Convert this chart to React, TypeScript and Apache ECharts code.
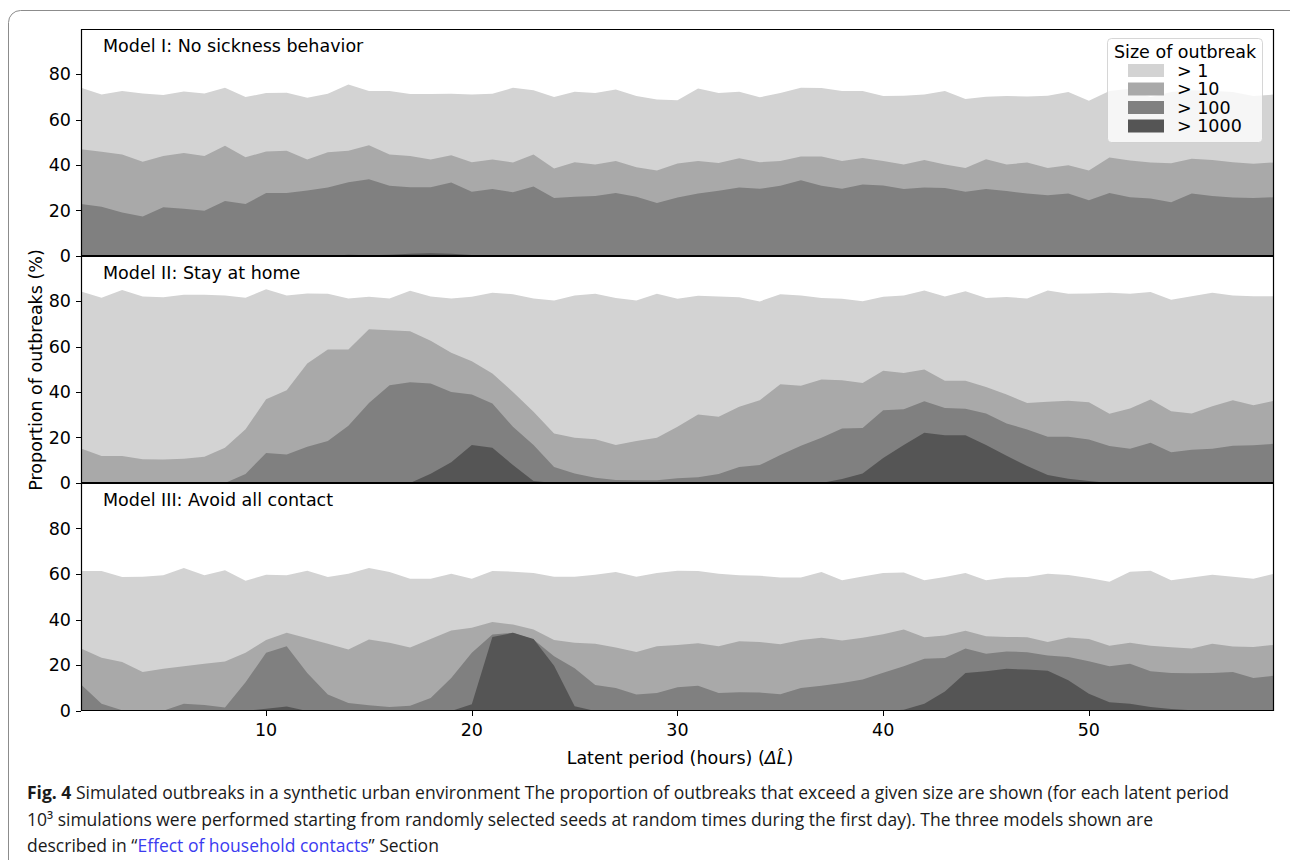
import React, { useEffect, useRef } from "react";
import * as echarts from "echarts";

// Latent period (hours)
const hours = [1, 2, 3, 4, 5, 6, 7, 8, 9, 10, 11, 12, 13, 14, 15, 16, 17, 18, 19, 20,
  21, 22, 23, 24, 25, 26, 27, 28, 29, 30, 31, 32, 33, 34, 35, 36, 37, 38, 39, 40,
  41, 42, 43, 44, 45, 46, 47, 48, 49, 50, 51, 52, 53, 54, 55, 56, 57, 58, 59];

// Model I: No sickness behavior
const m1Gt1 = [74.1, 71.1, 72.7, 71.6, 70.9, 72.5, 71.6, 74.1, 70.0, 71.8, 71.9, 69.7, 71.5, 75.6, 72.7, 72.7, 71.4, 71.4, 71.5, 71.2,
  71.5, 74.1, 73.0, 70.0, 72.4, 71.8, 73.4, 70.5, 68.9, 68.6, 73.8, 71.8, 72.4, 69.9, 71.8, 74.1, 74.0, 72.7, 72.7, 70.5,
  70.6, 71.1, 72.7, 69.2, 70.2, 70.5, 70.3, 70.6, 72.2, 68.4, 72.7, 73.7, 70.0, 72.2, 73.0, 72.8, 72.2, 70.5, 71.1];
const m1Gt10 = [47.0, 45.9, 44.7, 41.5, 44.1, 45.4, 44.1, 48.6, 43.5, 46.0, 46.4, 42.5, 45.7, 46.4, 48.8, 44.7, 44.0, 42.5, 44.4, 41.3,
  42.5, 41.2, 44.7, 38.5, 41.3, 40.3, 41.8, 39.1, 37.7, 40.7, 41.9, 41.0, 43.1, 41.3, 41.9, 43.8, 43.8, 41.9, 43.2, 41.8,
  40.3, 42.3, 40.3, 38.8, 42.6, 40.3, 41.2, 38.8, 40.0, 37.7, 43.4, 42.1, 41.2, 40.9, 42.8, 42.3, 41.3, 40.6, 41.2];
const m1Gt100 = [22.9, 21.7, 19.2, 17.4, 21.5, 20.8, 19.9, 24.2, 22.9, 27.7, 27.7, 28.9, 30.2, 32.5, 33.8, 30.9, 30.3, 30.3, 32.4, 28.3,
  29.5, 28.1, 30.6, 25.6, 26.1, 26.4, 27.8, 26.1, 23.4, 25.8, 27.5, 28.7, 30.2, 29.6, 30.9, 33.4, 30.9, 29.6, 31.5, 31.1,
  29.5, 30.2, 30.0, 28.3, 29.5, 28.6, 27.5, 26.8, 27.5, 24.6, 27.8, 25.9, 25.3, 23.7, 27.5, 26.4, 25.8, 25.5, 25.9];
const m1Gt1000 = [0, 0, 0, 0, 0, 0, 0, 0, 0, 0, 0, 0, 0, 0.5, 0.3, 0.6, 1.0, 1.2, 1.0, 0.4,
  0.2, 0, 0, 0, 0, 0, 0, 0, 0, 0, 0, 0, 0, 0, 0, 0, 0, 0, 0, 0,
  0, 0, 0, 0, 0, 0, 0, 0, 0, 0, 0, 0, 0, 0, 0, 0, 0, 0, 0];

// Model II: Stay at home
const m2Gt1 = [84.4, 81.6, 85.0, 82.2, 81.8, 82.9, 82.9, 82.6, 81.6, 85.4, 82.6, 83.5, 83.4, 81.3, 82.1, 81.3, 84.7, 82.2, 81.3, 82.0,
  83.8, 83.2, 81.3, 80.4, 82.6, 83.4, 81.5, 80.4, 83.4, 81.2, 82.5, 82.2, 81.8, 80.0, 83.2, 82.6, 81.5, 81.2, 80.1, 82.0,
  82.6, 84.8, 82.2, 84.5, 81.5, 81.9, 81.3, 84.8, 83.4, 83.5, 83.8, 83.4, 84.1, 80.7, 82.3, 83.8, 82.6, 82.3, 82.3];
const m2Gt10 = [15.2, 11.9, 11.9, 10.5, 10.3, 10.7, 11.6, 15.5, 23.7, 36.9, 40.9, 52.6, 58.8, 58.8, 67.7, 67.3, 66.8, 62.7, 57.4, 53.6,
  48.2, 40.1, 31.4, 21.8, 19.9, 19.3, 16.7, 18.5, 19.9, 24.8, 30.2, 29.2, 33.6, 36.5, 43.5, 42.8, 45.6, 45.3, 44.1, 49.5,
  48.5, 50.0, 45.0, 45.0, 42.3, 39.0, 35.2, 35.8, 36.2, 35.6, 30.5, 32.8, 36.8, 31.6, 30.6, 33.8, 36.5, 34.3, 36.2];
const m2Gt100 = [0, 0, 0, 0, 0, 0, 0, 0, 4.0, 13.2, 12.6, 16.0, 18.5, 25.2, 35.2, 43.1, 44.4, 43.8, 40.1, 39.0,
  35.0, 24.8, 16.7, 7.0, 4.2, 2.3, 1.3, 1.2, 1.2, 2.1, 2.5, 4.0, 7.0, 7.9, 12.3, 16.4, 19.9, 24.0, 24.2, 32.0,
  32.5, 36.0, 33.0, 32.7, 30.6, 26.2, 23.6, 20.4, 20.4, 19.2, 16.3, 15.1, 17.7, 13.6, 14.7, 15.1, 16.4, 16.6, 17.3];
const m2Gt1000 = [0, 0, 0, 0, 0, 0, 0, 0, 0, 0, 0, 0, 0, 0, 0, 0, 0, 4.1, 9.1, 16.7,
  15.5, 7.9, 0.9, 0, 0, 0, 0, 0, 0, 0, 0, 0, 0, 0, 0, 0, 0, 1.8, 4.2, 11.0,
  16.7, 22.1, 21.0, 21.0, 16.7, 12.0, 7.5, 3.5, 1.9, 0.9, 0, 0, 0, 0, 0, 0, 0, 0, 0];

// Model III: Avoid all contact
const m3Gt1 = [61.4, 61.4, 58.8, 58.9, 59.5, 62.7, 59.5, 61.7, 57.1, 59.8, 59.5, 61.5, 58.8, 60.2, 62.7, 61.0, 58.0, 58.0, 60.2, 58.0,
  61.4, 61.1, 60.5, 58.9, 58.9, 59.8, 61.0, 58.9, 60.5, 61.5, 61.4, 60.2, 59.5, 59.3, 58.6, 58.6, 61.0, 57.3, 59.0, 60.5,
  60.7, 57.3, 58.8, 60.5, 57.3, 58.6, 58.8, 60.2, 59.6, 58.3, 56.7, 61.1, 61.5, 57.4, 58.6, 59.8, 58.9, 58.0, 60.2];
const m3Gt10 = [27.4, 23.4, 21.5, 17.1, 18.5, 19.6, 20.7, 21.7, 25.5, 31.1, 34.3, 31.9, 29.5, 27.0, 31.4, 29.9, 27.8, 31.6, 35.3, 36.5,
  39.0, 37.9, 35.8, 31.1, 29.9, 29.5, 27.8, 25.9, 28.4, 28.9, 29.7, 28.4, 30.6, 30.3, 29.3, 31.1, 32.1, 30.9, 32.1, 33.7,
  35.8, 32.4, 33.1, 35.2, 32.8, 32.5, 32.4, 30.3, 32.2, 31.6, 28.6, 29.9, 28.6, 28.0, 27.4, 29.5, 28.3, 28.1, 29.0];
const m3Gt100 = [11.6, 3.2, 0.3, 0, 0.1, 3.2, 2.6, 1.5, 12.6, 25.5, 28.4, 16.7, 7.2, 3.5, 2.5, 1.8, 2.3, 5.7, 14.5, 25.5,
  33.6, 34.3, 31.4, 24.0, 18.8, 11.4, 10.1, 7.2, 7.9, 10.4, 11.1, 7.9, 8.2, 8.1, 7.3, 10.1, 11.1, 12.3, 13.8, 16.8,
  19.6, 22.9, 23.3, 27.4, 25.1, 26.1, 25.8, 24.3, 23.7, 21.8, 19.6, 20.7, 17.4, 16.7, 16.6, 16.7, 17.1, 14.5, 15.5];
const m3Gt1000 = [0, 0, 0, 0, 0, 0, 0, 0, 0, 1.0, 2.0, 0, 0, 0, 0, 0, 0, 0, 0, 3.0,
  32.5, 34.3, 31.6, 19.9, 2.1, 0, 0, 0, 0, 0, 0, 0, 0, 0, 0, 0, 0, 0, 0, 0,
  0.6, 3.2, 8.6, 16.7, 17.4, 18.5, 18.2, 17.6, 13.5, 7.6, 3.8, 3.2, 1.8, 0.9, 0.3, 0, 0, 0, 0];

const sizeNames = ["> 1", "> 10", "> 100", "> 1000"];
const sizeColors = ["#d3d3d3", "#a9a9a9", "#808080", "#555555"];
const panelTitles = ["Model I: No sickness behavior", "Model II: Stay at home", "Model III: Avoid all contact"];
const yTickValues = [0, 20, 40, 60, 80];
const xTickValues = [10, 20, 30, 40, 50];

const panels = [
  [m1Gt1, m1Gt10, m1Gt100, m1Gt1000],
  [m2Gt1, m2Gt10, m2Gt100, m2Gt1000],
  [m3Gt1, m3Gt10, m3Gt100, m3Gt1000],
];

const FONT = '"DejaVu Sans", sans-serif';
const CAP_FONT = '"Open Sans", sans-serif';
const FS = 17.5;
const CAP_FS = 17.5;

const PLOT_LEFT = 81;
const PLOT_RIGHT = 16;
const PLOT_W = 1290 - PLOT_LEFT - PLOT_RIGHT;
const gridTops = [29, 256, 483];
const gridHeights = [227, 227, 228];

export default function App() {
  const ref = useRef<HTMLDivElement>(null);

  useEffect(() => {
    if (!ref.current) return;
    const chart = echarts.init(ref.current, null, { renderer: "svg" });

    const grid = gridTops.map((top, i) => ({
      left: PLOT_LEFT,
      width: PLOT_W,
      top,
      height: gridHeights[i],
      containLabel: false,
      outerBoundsMode: "none",
      show: false,
    }));

    const xAxis = gridTops.map((_, i) => ({
      type: "value",
      gridIndex: i,
      min: 1,
      max: 59,
      axisLine: { show: false },
      splitLine: { show: false },
      axisTick: {
        show: i === 2,
        customValues: xTickValues,
        length: 5,
        lineStyle: { color: "#000", width: 1 },
      },
      axisLabel: {
        show: i === 2,
        customValues: xTickValues,
        fontFamily: FONT,
        fontSize: FS,
        color: "#000",
        margin: 10,
      },
    }));

    const yAxis = gridTops.map((_, i) => ({
      type: "value",
      gridIndex: i,
      min: 0,
      max: 100,
      axisLine: { show: false },
      splitLine: { show: false },
      axisTick: {
        show: true,
        customValues: yTickValues,
        length: 5,
        lineStyle: { color: "#000", width: 1 },
      },
      axisLabel: {
        customValues: yTickValues,
        fontFamily: FONT,
        fontSize: FS,
        color: "#000",
        margin: 10,
      },
    }));

    const series: any[] = [];
    panels.forEach((levels, p) => {
      levels.forEach((vals, k) => {
        series.push({
          type: "line",
          name: sizeNames[k],
          xAxisIndex: p,
          yAxisIndex: p,
          data: vals.map((v, j) => [hours[j], v]),
          symbol: "none",
          showSymbol: false,
          color: sizeColors[k],
          itemStyle: { color: sizeColors[k] },
          lineStyle: { width: 0, opacity: 0 },
          areaStyle: { color: sizeColors[k], opacity: 1 },
          silent: true,
        });
      });
    });

    const elements: any[] = [];
    // figure frame
    elements.push({
      type: "rect",
      shape: { x: 8.5, y: 10.5, width: 1320, height: 900, r: 12 },
      style: { fill: "none", stroke: "#8c8c8c", lineWidth: 1 },
      z: 0,
      silent: true,
    });
    // panel spines and titles
    gridTops.forEach((top, i) => {
      elements.push({
        type: "rect",
        shape: { x: PLOT_LEFT + 0.5, y: top + 0.5, width: PLOT_W - 1, height: gridHeights[i] - 1 },
        style: { fill: "none", stroke: "#000", lineWidth: 1.2 },
        z: 30,
        silent: true,
      });
      elements.push({
        type: "text",
        x: 103,
        y: top + 16.5,
        style: {
          text: panelTitles[i],
          fontFamily: FONT,
          fontSize: FS,
          fill: "#000",
          align: "left",
          verticalAlign: "middle",
        },
        z: 30,
      });
    });
    // legend box and title
    elements.push({
      type: "rect",
      shape: { x: 1107.5, y: 38.5, width: 155, height: 104, r: 4 },
      style: { fill: "rgba(255,255,255,0.8)", stroke: "rgba(204,204,204,0.8)", lineWidth: 1 },
      z: 10,
      silent: true,
    });
    elements.push({
      type: "text",
      x: 1185,
      y: 51.5,
      style: {
        text: "Size of outbreak",
        fontFamily: FONT,
        fontSize: FS,
        fill: "#000",
        align: "center",
        verticalAlign: "middle",
      },
      z: 40,
    });
    // y axis name
    elements.push({
      type: "text",
      x: 36,
      y: 370,
      rotation: Math.PI / 2,
      style: {
        text: "Proportion of outbreaks (%)",
        fontFamily: FONT,
        fontSize: FS,
        fill: "#000",
        align: "center",
        verticalAlign: "middle",
      },
      z: 30,
    });
    // x axis name
    elements.push({
      type: "text",
      x: 680,
      y: 758,
      style: {
        text: "Latent period (hours) ({i|ΔL̂})",
        fontFamily: FONT,
        fontSize: FS,
        fill: "#000",
        align: "center",
        verticalAlign: "middle",
        rich: { i: { fontFamily: FONT, fontSize: FS, fontStyle: "italic", fill: "#000" } },
      },
      z: 30,
    });
    // caption
    const capBase = { fontFamily: CAP_FONT, fontSize: CAP_FS, fill: "#1a1a1a" };
    elements.push({
      type: "text",
      x: 27,
      y: 792,
      style: {
        ...capBase,
        text: "{b|Fig. 4} Simulated outbreaks in a synthetic urban environment The proportion of outbreaks that exceed a given size are shown (for each latent period",
        align: "left",
        verticalAlign: "middle",
        rich: { b: { fontFamily: CAP_FONT, fontSize: CAP_FS, fontWeight: "bold", fill: "#1a1a1a" } },
      },
      z: 30,
    });
    elements.push({
      type: "text",
      x: 27,
      y: 819,
      style: {
        ...capBase,
        text: "10³ simulations were performed starting from randomly selected seeds at random times during the first day). The three models shown are",
        align: "left",
        verticalAlign: "middle",
      },
      z: 30,
    });
    elements.push({
      type: "text",
      x: 27,
      y: 845,
      style: {
        ...capBase,
        text: "described in “{l|Effect of household contacts}” Section",
        align: "left",
        verticalAlign: "middle",
        rich: { l: { fontFamily: CAP_FONT, fontSize: CAP_FS, fill: "#3b3bf0", color: "#3b3bf0" } },
      },
      z: 30,
    });

    const option: any = {
      animation: false,
      backgroundColor: "#ffffff",
      grid,
      xAxis,
      yAxis,
      series,
      legend: {
        data: sizeNames.map((name) => ({ name, icon: "rect" })),
        orient: "vertical",
        left: 1128,
        top: 61.5,
        padding: 0,
        itemWidth: 36,
        itemHeight: 13,
        itemGap: 0.5,
        selectedMode: false,
        z: 20,
        itemStyle: { borderWidth: 0 },
        textStyle: {
          fontFamily: FONT,
          fontSize: FS,
          color: "#000",
          lineHeight: 18,
          padding: [0, 0, 0, 8],
        },
      },
      graphic: { elements },
    };

    chart.setOption(option);
    return () => chart.dispose();
  }, []);

  return (
    <div
      ref={ref}
      style={{ position: "fixed", left: 0, top: 0, width: 1290, height: 860, background: "#fff" }}
    />
  );
}
